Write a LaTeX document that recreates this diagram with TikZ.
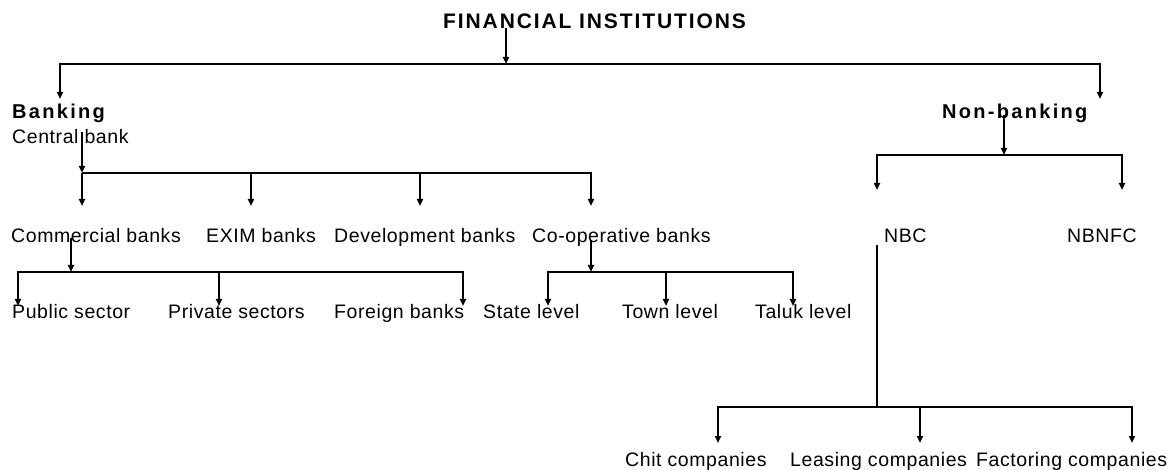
\documentclass[tikz,border=0pt]{standalone}
\usepackage{fontspec}
\usetikzlibrary{arrows.meta}
\newfontfamily\regfont[LetterSpace=3.0]{Liberation Sans}
\newfontfamily\boldfont[LetterSpace=11.5]{Liberation Sans}
\newfontfamily\titlefont[LetterSpace=9.0]{Liberation Sans}
\begin{document}
\begin{tikzpicture}[x=1pt,y=-1pt,
  ln/.style={line width=1.8pt},
  arr/.style={line width=1.8pt,-{Triangle[width=6pt,length=7pt]}},
  lbl/.style={anchor=base west,inner sep=0pt,font=\regfont\fontsize{19.5}{22}\selectfont},
  head/.style={anchor=base west,inner sep=0pt,font=\boldfont\bfseries\fontsize{20}{22}\selectfont},
  title/.style={anchor=base west,inner sep=0pt,font=\titlefont\bfseries\fontsize{21}{24}\selectfont}]
\useasboundingbox[fill=white] (0,0) rectangle (1173,470);

% text labels
\node[title] (fi) at (443,29) {FINANCIAL INSTITUTIONS};
\node[head] (bank) at (12,119) {Banking};
\node[lbl] (cent) at (12,144) {Central bank};
\node[head] (nonb) at (942,119) {Non-banking};

\node[lbl] (comm) at (11,243) {Commercial banks};
\node[lbl] (exim) at (206,243) {EXIM banks};
\node[lbl] (dev) at (334,243) {Development banks};
\node[lbl] (coop) at (532,243) {Co-operative banks};
\node[lbl] (nbc) at (884,243) {NBC};
\node[lbl] (nbnfc) at (1067,243) {NBNFC};

\node[lbl] (pub) at (12,319) {Public sector};
\node[lbl] (priv) at (168,319) {Private sectors};
\node[lbl] (forb) at (334,319) {Foreign banks};
\node[lbl] (state) at (483,319) {State level};
\node[lbl] (town) at (622,319) {Town level};
\node[lbl] (taluk) at (755,319) {Taluk level};

\node[lbl] (chit) at (625,466) {Chit companies};
\node[lbl] (leas) at (790,466) {Leasing companies};
\node[lbl] (fact) at (976,466) {Factoring companies};

% junction points
\coordinate (fiS) at (506,28);
\coordinate (fiJ) at (506,64);
\coordinate (bankT) at (60,99);
\coordinate (nonbT) at (1100,99);

\coordinate (centS) at (82,132);
\coordinate (centJ) at (82,173);
\coordinate (commT) at (82,206);
\coordinate (eximJ) at (251,173);
\coordinate (eximT) at (251,206);
\coordinate (devJ) at (420,173);
\coordinate (devT) at (420,206);
\coordinate (coopT) at (591,206);

\coordinate (commS) at (71,238);
\coordinate (commJ) at (71,272);
\coordinate (pubT) at (18,306);
\coordinate (privJ) at (219,272);
\coordinate (privT) at (219,306);
\coordinate (forbT) at (463,306);

\coordinate (coopS) at (591,240);
\coordinate (coopJ) at (591,272);
\coordinate (stateT) at (548,306);
\coordinate (townJ) at (666,272);
\coordinate (townT) at (666,306);
\coordinate (talukT) at (793,306);

\coordinate (nonbS) at (1004,115);
\coordinate (nonbJ) at (1004,155);
\coordinate (nbcT) at (877,190);
\coordinate (nbnfcT) at (1122,190);

\coordinate (nbcS) at (877,245);
\coordinate (nbcJ) at (877,407);
\coordinate (chitT) at (718,443);
\coordinate (leasJ) at (920,407);
\coordinate (leasT) at (920,443);
\coordinate (factT) at (1132,443);

% top level
\draw[arr] (fiS) -- (fiJ);
\draw[arr] (fiJ) -| (bankT);
\draw[arr] (fiJ) -| (nonbT);

% banking
\draw[arr] (centS) -- (centJ);
\draw[arr] (centJ) -- (commT);
\draw[arr] (centJ) -| (coopT);
\draw[arr] (eximJ) -- (eximT);
\draw[arr] (devJ) -- (devT);

% commercial banks
\draw[arr] (commS) -- (commJ);
\draw[arr] (commJ) -| (pubT);
\draw[arr] (commJ) -| (forbT);
\draw[arr] (privJ) -- (privT);

% co-operative banks
\draw[arr] (coopS) -- (coopJ);
\draw[arr] (coopJ) -| (stateT);
\draw[arr] (coopJ) -| (talukT);
\draw[arr] (townJ) -- (townT);

% non-banking
\draw[arr] (nonbS) -- (nonbJ);
\draw[arr] (nonbJ) -| (nbcT);
\draw[arr] (nonbJ) -| (nbnfcT);

% NBC
\draw[ln] (nbcS) -- (nbcJ);
\draw[arr] (nbcJ) -| (chitT);
\draw[arr] (nbcJ) -| (factT);
\draw[arr] (leasJ) -- (leasT);
\end{tikzpicture}
\end{document}
